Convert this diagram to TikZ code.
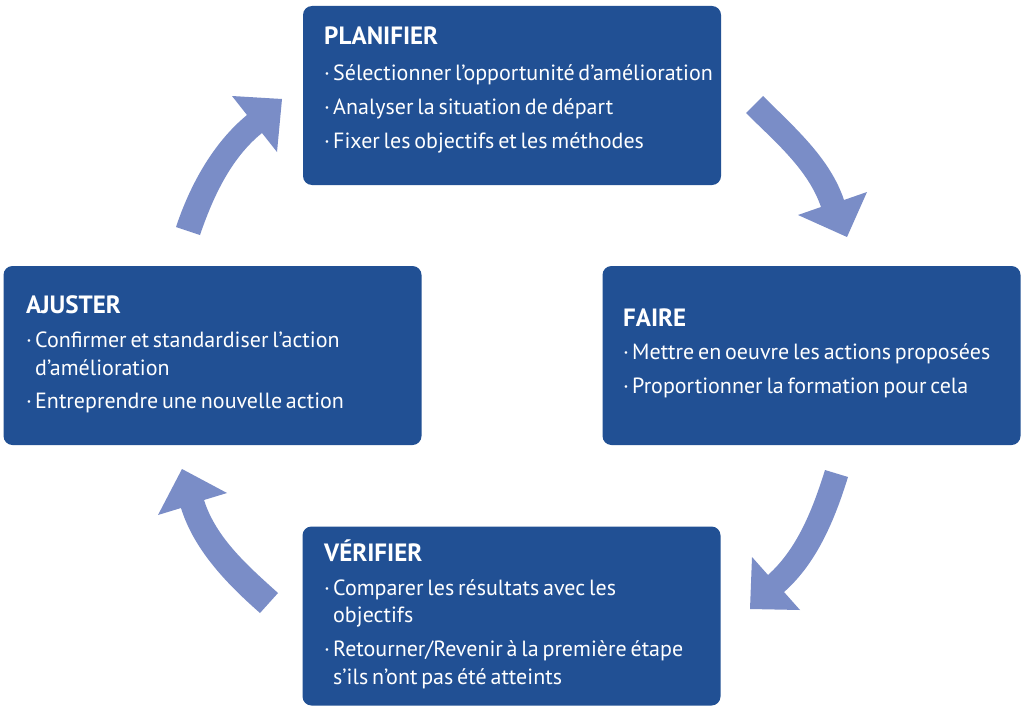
\documentclass[tikz,border=0pt]{standalone}
\usepackage{fontspec}
\setmainfont[WordSpace=0.65]{PT Sans}
\definecolor{boxblue}{RGB}{33,80,148}
\definecolor{arrowblue}{RGB}{122,141,199}
\newcommand{\bul}{\makebox[9pt][l]{·}}
\tikzset{
  stagebox/.style={draw=none, fill=boxblue, rounded corners=9pt, minimum width=418pt, minimum height=179pt, inner sep=0pt},
  stagetitle/.style={anchor=base west, inner sep=0pt, text=white, font=\bfseries\fontsize{25}{29}\selectfont},
  stageitem/.style={anchor=base west, inner sep=0pt, text=white, font=\fontsize{22}{26}\selectfont},
  cyclearrow/.style={fill=arrowblue, draw=none}
}
\begin{document}
\begin{tikzpicture}[x=1pt,y=-1pt]
\fill[white] (0,0) rectangle (1024,717);
\useasboundingbox (0,0) rectangle (1024,717);

% boxes
\node[stagebox] (plan) at (512,95.5) {};
\node[stagebox] (faire) at (811.5,355.5) {};
\node[stagebox] (ajust) at (212.5,355.5) {};
\node[stagebox] (verif) at (511.5,616) {};

% PLANIFIER
\node[stagetitle] (planT) at (324,45) {PLANIFIER};
\node[stageitem] (plan1) at (324,80) {\bul Sélectionner l’opportunité d’amélioration};
\node[stageitem] (plan2) at (324,114) {\bul Analyser la situation de départ};
\node[stageitem] (plan3) at (324,148) {\bul Fixer les objectifs et les méthodes};

% FAIRE
\node[stagetitle] (faireT) at (623,326) {FAIRE};
\node[stageitem] (faire1) at (623,359) {\bul Mettre en oeuvre les actions proposées};
\node[stageitem] (faire2) at (623,393) {\bul Proportionner la formation pour cela};

% AJUSTER
\node[stagetitle] (ajustT) at (26,313) {AJUSTER};
\node[stageitem] (ajust1) at (26,347) {\bul Confirmer et standardiser l’action};
\node[stageitem] (ajust1b) at (35,375) {d’amélioration};
\node[stageitem] (ajust2) at (26,408) {\bul Entreprendre une nouvelle action};

% VERIFIER
\node[stagetitle] (verifT) at (324,561) {VÉRIFIER};
\node[stageitem] (verif1) at (324,595) {\bul Comparer les résultats avec les};
\node[stageitem] (verif1b) at (333,622) {objectifs};
\node[stageitem] (verif2) at (324,656) {\bul Retourner/Revenir à la première étape};
\node[stageitem] (verif2b) at (333,684) {s’ils n’ont pas été atteints};

% arrows
% top right
\fill[cyclearrow] (763,96) .. controls (794,127) and (830,158) .. (844,200)
  -- (867,192) -- (847,237) -- (798,215) -- (821,207)
  .. controls (808,169) and (774,141) .. (746,113) -- cycle;
% bottom right
\fill[cyclearrow] (848,477) .. controls (835,519) and (817,563) .. (784,592)
  -- (800,610) -- (750,609) -- (752,557) -- (768,575)
  .. controls (798,548) and (813,508) .. (825,470) -- cycle;
% bottom left
\fill[cyclearrow] (260,613) .. controls (227,584) and (194,550) .. (181,508)
  -- (158,515) -- (182,469) -- (227,493) -- (204,500)
  .. controls (216,538) and (248,566) .. (278,593) -- cycle;
% top left
\fill[cyclearrow] (176,227) .. controls (190,185) and (213,143) .. (247,115)
  -- (232,96) -- (282,99) -- (277,152) -- (262,133)
  .. controls (231,158) and (213,197) .. (200,235) -- cycle;
\end{tikzpicture}
\end{document}
